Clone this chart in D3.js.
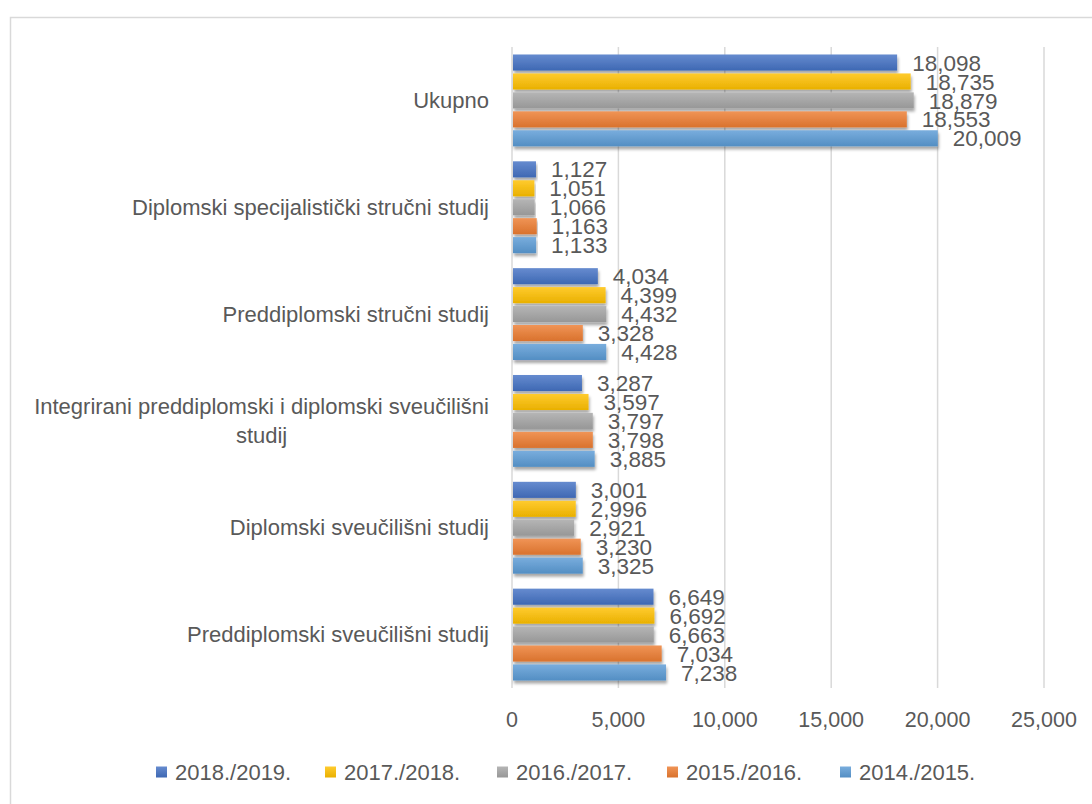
<!DOCTYPE html>
<html>
<head>
<meta charset="utf-8">
<script src="https://cdn.jsdelivr.net/npm/d3@7"></script>
<style>
  body { margin: 0; background: #fff; }
  svg { display: block; font-family: "Liberation Sans", Arial, sans-serif; }
</style>
</head>
<body>
<svg id="chart" width="1092" height="804"></svg>
<script>
// categories top to bottom
var categories = [
    "Ukupno",
    "Diplomski specijalistički stručni studij",
    "Preddiplomski stručni studij",
    "Integrirani preddiplomski i diplomski sveučilišni|studij",
    "Diplomski sveučilišni studij",
    "Preddiplomski sveučilišni studij"
];

var seriesNames = ["2018./2019.", "2017./2018.", "2016./2017.", "2015./2016.", "2014./2015."];
var seriesColors = ["#4472C4", "#FFC000", "#A5A5A5", "#ED7D31", "#5B9BD5"];

// one array per series, same order as categories
var s2018 = [18098, 1127, 4034, 3287, 3001, 6649];
var s2017 = [18735, 1051, 4399, 3597, 2996, 6692];
var s2016 = [18879, 1066, 4432, 3797, 2921, 6663];
var s2015 = [18553, 1163, 3328, 3798, 3230, 7034];
var s2014 = [20009, 1133, 4428, 3885, 3325, 7238];
var seriesValues = [s2018, s2017, s2016, s2015, s2014];

var xTicks = [0, 5000, 10000, 15000, 20000, 25000];

var svg = d3.select("#chart");
var fmt = d3.format(",");
var textColor = "#595959";

var x = d3.scaleLinear().domain([0, 25000]).range([512, 1044]);
var y0 = d3.scaleBand().domain(categories).range([47, 688]).paddingInner(0.14).paddingOuter(0.07);
var y1 = d3.scaleBand().domain(d3.range(seriesNames.length)).range([0, y0.bandwidth()]).paddingInner(0.15);

// chart frame
svg.append("rect")
    .attr("x", 10.5).attr("y", 17.5)
    .attr("width", 1100).attr("height", 800)
    .attr("fill", "#fff").attr("stroke", "#d9d9d9").attr("stroke-width", 1.5);

var defs = svg.append("defs");

// soft shadow under the bars
var shadow = defs.append("filter").attr("id", "shadow")
    .attr("x", "-5%").attr("y", "-30%").attr("width", "110%").attr("height", "180%");
shadow.append("feDropShadow")
    .attr("dx", 1).attr("dy", 3).attr("stdDeviation", 1.6)
    .attr("flood-color", "#000").attr("flood-opacity", 0.35);

seriesColors.forEach(function(c, i) {
    var g = defs.append("linearGradient").attr("id", "grad" + i)
        .attr("x1", 0).attr("y1", 0).attr("x2", 0).attr("y2", 1);
    g.append("stop").attr("offset", "0%").attr("stop-color", d3.interpolateRgb(c, "#fff")(0.18));
    g.append("stop").attr("offset", "100%").attr("stop-color", d3.color(c).darker(0.25));
});

// gridlines
svg.append("g").selectAll("line")
    .data(xTicks.slice(1))
    .join("line")
    .attr("x1", function(d) { return x(d); })
    .attr("x2", function(d) { return x(d); })
    .attr("y1", 47).attr("y2", 688)
    .attr("stroke", "#d9d9d9").attr("stroke-width", 1.5);

// vertical axis line
svg.append("line")
    .attr("x1", x(0)).attr("x2", x(0))
    .attr("y1", 47).attr("y2", 688)
    .attr("stroke", "#d9d9d9").attr("stroke-width", 1.5);

// x tick labels
svg.append("g").selectAll("text")
    .data(xTicks)
    .join("text")
    .attr("x", function(d) { return x(d); })
    .attr("y", 719)
    .attr("dy", "0.35em")
    .attr("text-anchor", "middle")
    .attr("fill", textColor)
    .style("font-size", "21.5px")
    .text(function(d) { return fmt(d); });

// bars
var groups = svg.append("g").selectAll("g")
    .data(categories)
    .join("g")
    .attr("transform", function(d) { return "translate(0," + y0(d) + ")"; });

groups.each(function(cat, ci) {
    var g = d3.select(this);
    var rows = seriesValues.map(function(vals, si) { return { si: si, v: vals[ci] }; });

    g.selectAll("rect")
        .data(rows)
        .join("rect")
        .attr("x", x(0) + 1)
        .attr("y", function(d) { return y1(d.si); })
        .attr("width", function(d) { return x(d.v) - x(0) - 1; })
        .attr("height", y1.bandwidth())
        .attr("fill", function(d) { return "url(#grad" + d.si + ")"; })
        .attr("filter", "url(#shadow)");

    g.selectAll("text.val")
        .data(rows)
        .join("text")
        .attr("class", "val")
        .attr("x", function(d) { return x(d.v) + 15; })
        .attr("y", function(d) { return y1(d.si) + y1.bandwidth() / 2; })
        .attr("dy", "0.36em")
        .attr("fill", textColor)
        .style("font-size", "22.5px")
        .text(function(d) { return fmt(d.v); });
});

// category labels (right aligned block, wrapped lines centred in it)
var catLabels = svg.append("g").selectAll("g")
    .data(categories)
    .join("g");

catLabels.each(function(cat) {
    var lines = cat.split("|");
    var g = d3.select(this);
    var cy = y0(cat) + y0.bandwidth() / 2;
    var lineH = 29;
    var texts = g.selectAll("text")
        .data(lines)
        .join("text")
        .attr("y", function(d, i) { return cy + (i - (lines.length - 1) / 2) * lineH; })
        .attr("dy", "0.35em")
        .attr("fill", textColor)
        .style("font-size", "22px")
        .text(function(d) { return d; });
    var widest = 0;
    texts.each(function() { widest = Math.max(widest, this.getComputedTextLength()); });
    var center = 489 - widest / 2;
    texts.attr("x", center).attr("text-anchor", "middle");
});

// legend
var legendX = [156, 325, 497, 667, 840];
var legend = svg.append("g").selectAll("g")
    .data(seriesNames)
    .join("g")
    .attr("transform", function(d, i) { return "translate(" + legendX[i] + ",772)"; });

legend.append("rect")
    .attr("x", 0).attr("y", -5.5)
    .attr("width", 11).attr("height", 11)
    .attr("fill", function(d, i) { return "url(#grad" + i + ")"; });

legend.append("text")
    .attr("x", 19)
    .attr("dy", "0.35em")
    .attr("fill", textColor)
    .style("font-size", "22px")
    .text(function(d) { return d; });
</script>
</body>
</html>
